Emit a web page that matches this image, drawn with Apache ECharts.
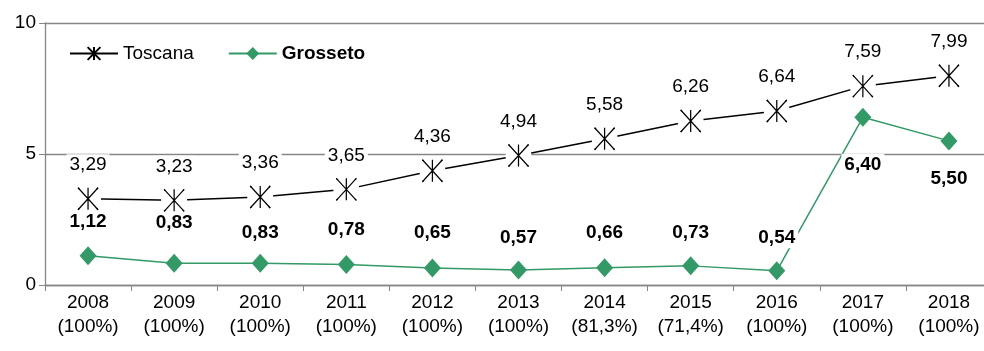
<!DOCTYPE html>
<html><head><meta charset="utf-8">
<script src="https://cdn.jsdelivr.net/npm/echarts@6/dist/echarts.min.js"></script>
<style>html,body{margin:0;padding:0;background:#fff}#c{width:984px;height:351px}</style>
</head><body><div id="c"></div>
<script>
const years = ['2008','2009','2010','2011','2012','2013','2014','2015','2016','2017','2018'];
const coverage = ['100%','100%','100%','100%','100%','100%','81,3%','71,4%','100%','100%','100%'];
const toscana = [3.29,3.23,3.36,3.65,4.36,4.94,5.58,6.26,6.64,7.59,7.99];
const grosseto = [1.12,0.83,0.83,0.78,0.65,0.57,0.66,0.73,0.54,6.40,5.50];
const yTicks = [0,5,10];
// label placement (style only): vertical offsets of Grosseto labels in px
const grossetoLabelDy = [-34,-40,-30,-35,-35,-32,-35,-33,-33,47,38];

const FONT = "'Liberation Sans', Arial, sans-serif";
const FS = 19;
const GREEN = '#339966';
const GRID = '#868686';
const STAR = 'path://M0,0 L20,22 M20,0 L0,22 M10,0 L10,22';
const fmt = v => Number(v).toFixed(2).replace('.', ',');
const categories = years.map((y, i) => y + '\n(' + coverage[i] + ')');

const chart = echarts.init(document.getElementById('c'), null, {renderer: 'canvas'});
chart.setOption({
  animation: false,
  textStyle: {fontFamily: FONT},
  grid: {left: 45, width: 947, top: 23, bottom: 66, outerBoundsMode: 'none', containLabel: false},
  legend: {
    left: 64, top: 39,
    itemWidth: 48, itemHeight: 16, itemGap: 34,
    textStyle: {fontFamily: FONT, fontSize: FS, color: '#000'},
    data: [
      {name: 'Toscana'},
      {name: 'Grosseto', textStyle: {fontWeight: 'bold'}}
    ]
  },
  xAxis: {
    type: 'category',
    data: categories,
    boundaryGap: true,
    axisLine: {lineStyle: {color: GRID, width: 1.3}},
    axisTick: {show: true, length: 6, interval: 0, lineStyle: {color: GRID}},
    axisLabel: {fontFamily: FONT, fontSize: FS, color: '#000', lineHeight: 24, margin: 6, interval: 0}
  },
  yAxis: {
    type: 'value',
    min: yTicks[0], max: yTicks[yTicks.length - 1], interval: yTicks[1] - yTicks[0],
    axisLine: {show: true, lineStyle: {color: GRID, width: 1.3}},
    axisTick: {show: true, length: 6, lineStyle: {color: GRID}},
    axisLabel: {fontFamily: FONT, fontSize: FS, color: '#000', margin: 9},
    splitLine: {show: true, lineStyle: {color: GRID, width: 1.3}}
  },
  series: [
    {
      name: 'Toscana', type: 'line', z: 2,
      data: toscana,
      symbol: STAR, symbolSize: [20, 22],
      lineStyle: {color: '#000', width: 1.5},
      itemStyle: {color: 'transparent', borderColor: '#000', borderWidth: 1.3}
    },
    {
      name: '_cover', type: 'scatter', z: 3, silent: true,
      data: toscana, symbol: 'circle', symbolSize: 26,
      itemStyle: {color: '#fff', opacity: 1}
    },
    {
      name: '_star', type: 'scatter', z: 4, silent: true,
      data: toscana, symbol: STAR, symbolSize: [20, 22],
      itemStyle: {color: 'transparent', borderColor: '#000', borderWidth: 1.3, opacity: 1},
      label: {
        show: true, position: 'inside', offset: [0, -34],
        formatter: p => fmt(p.value),
        fontFamily: FONT, fontSize: FS, color: '#000', opacity: 1,
        textBorderWidth: 0, textBorderColor: 'transparent',
        backgroundColor: '#fff', padding: [1, 3]
      }
    },
    {
      name: 'Grosseto', type: 'line', z: 5,
      data: grosseto.map((v, i) => ({value: v, label: {offset: [0, grossetoLabelDy[i]]}})),
      symbol: 'diamond', symbolSize: [17, 19],
      lineStyle: {color: GREEN, width: 1.5},
      itemStyle: {color: GREEN},
      label: {
        show: true, position: 'inside',
        formatter: p => fmt(p.value),
        fontFamily: FONT, fontSize: FS, fontWeight: 'bold', color: '#000',
        textBorderWidth: 0, textBorderColor: 'transparent',
        backgroundColor: '#fff', padding: [1, 3]
      }
    }
  ]
});
</script>
</body></html>
